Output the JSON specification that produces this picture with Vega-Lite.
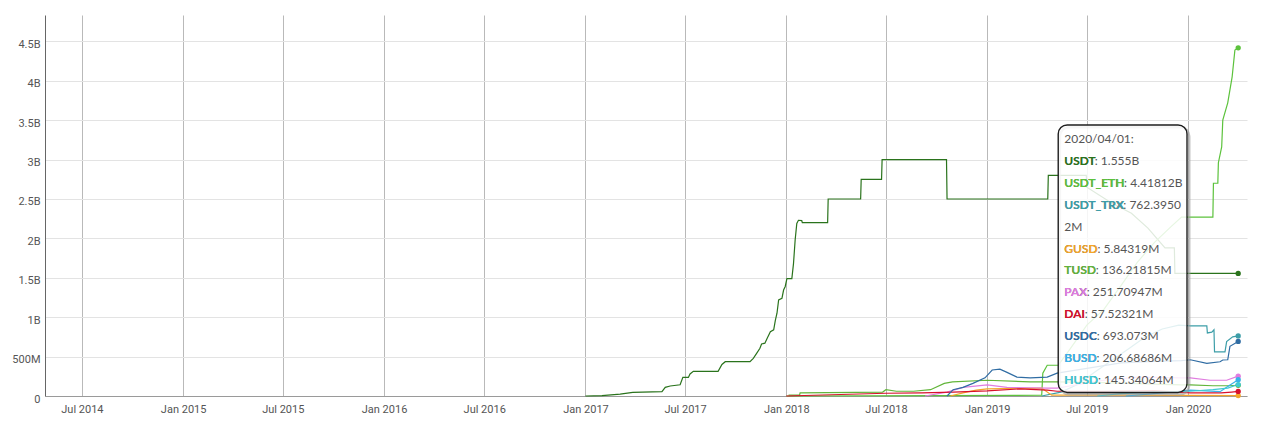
{
  "$schema": "https://vega.github.io/schema/vega-lite/v6.json",
  "width": 1202,
  "height": 381,
  "autosize": {"type": "none"},
  "padding": {"left": 45, "top": 15, "right": 33, "bottom": 26},
  "background": "white",
  "config": {"view": {"stroke": null}, "font": "Roboto"},
  "datasets": {
    "supply": [
      {"coin": "USDT", "date": "2017-01-01", "value": 0.0},
      {"coin": "USDT", "date": "2017-01-31", "value": 0.004},
      {"coin": "USDT", "date": "2017-03-05", "value": 0.025},
      {"coin": "USDT", "date": "2017-03-28", "value": 0.047},
      {"coin": "USDT", "date": "2017-05-20", "value": 0.055},
      {"coin": "USDT", "date": "2017-05-26", "value": 0.11},
      {"coin": "USDT", "date": "2017-06-04", "value": 0.127},
      {"coin": "USDT", "date": "2017-06-22", "value": 0.143},
      {"coin": "USDT", "date": "2017-06-27", "value": 0.236},
      {"coin": "USDT", "date": "2017-07-07", "value": 0.236},
      {"coin": "USDT", "date": "2017-07-10", "value": 0.28},
      {"coin": "USDT", "date": "2017-07-16", "value": 0.313},
      {"coin": "USDT", "date": "2017-08-30", "value": 0.313},
      {"coin": "USDT", "date": "2017-09-06", "value": 0.40},
      {"coin": "USDT", "date": "2017-09-12", "value": 0.435},
      {"coin": "USDT", "date": "2017-10-27", "value": 0.435},
      {"coin": "USDT", "date": "2017-11-02", "value": 0.478},
      {"coin": "USDT", "date": "2017-11-08", "value": 0.54},
      {"coin": "USDT", "date": "2017-11-14", "value": 0.605},
      {"coin": "USDT", "date": "2017-11-17", "value": 0.66},
      {"coin": "USDT", "date": "2017-11-23", "value": 0.67},
      {"coin": "USDT", "date": "2017-11-27", "value": 0.73},
      {"coin": "USDT", "date": "2017-12-03", "value": 0.816},
      {"coin": "USDT", "date": "2017-12-09", "value": 0.84},
      {"coin": "USDT", "date": "2017-12-12", "value": 0.96},
      {"coin": "USDT", "date": "2017-12-15", "value": 1.05},
      {"coin": "USDT", "date": "2017-12-18", "value": 1.22},
      {"coin": "USDT", "date": "2017-12-24", "value": 1.24},
      {"coin": "USDT", "date": "2017-12-27", "value": 1.345},
      {"coin": "USDT", "date": "2017-12-30", "value": 1.39},
      {"coin": "USDT", "date": "2018-01-02", "value": 1.49},
      {"coin": "USDT", "date": "2018-01-11", "value": 1.49},
      {"coin": "USDT", "date": "2018-01-14", "value": 1.68},
      {"coin": "USDT", "date": "2018-01-17", "value": 1.98},
      {"coin": "USDT", "date": "2018-01-20", "value": 2.19},
      {"coin": "USDT", "date": "2018-01-23", "value": 2.23},
      {"coin": "USDT", "date": "2018-01-29", "value": 2.225},
      {"coin": "USDT", "date": "2018-01-30", "value": 2.20},
      {"coin": "USDT", "date": "2018-03-17", "value": 2.20},
      {"coin": "USDT", "date": "2018-03-18", "value": 2.50},
      {"coin": "USDT", "date": "2018-05-16", "value": 2.50},
      {"coin": "USDT", "date": "2018-05-17", "value": 2.75},
      {"coin": "USDT", "date": "2018-06-23", "value": 2.75},
      {"coin": "USDT", "date": "2018-06-24", "value": 3.00},
      {"coin": "USDT", "date": "2018-10-19", "value": 3.00},
      {"coin": "USDT", "date": "2018-10-20", "value": 2.50},
      {"coin": "USDT", "date": "2019-04-21", "value": 2.50},
      {"coin": "USDT", "date": "2019-04-22", "value": 2.80},
      {"coin": "USDT", "date": "2019-06-30", "value": 2.80},
      {"coin": "USDT", "date": "2019-07-01", "value": 2.65},
      {"coin": "USDT", "date": "2019-08-15", "value": 2.45},
      {"coin": "USDT", "date": "2019-09-20", "value": 2.32},
      {"coin": "USDT", "date": "2019-10-20", "value": 2.13},
      {"coin": "USDT", "date": "2019-11-20", "value": 1.88},
      {"coin": "USDT", "date": "2019-12-07", "value": 1.88},
      {"coin": "USDT", "date": "2019-12-08", "value": 1.555},
      {"coin": "USDT", "date": "2020-04-01", "value": 1.555},

      {"coin": "USDT_ETH", "date": "2018-01-01", "value": 0.0},
      {"coin": "USDT_ETH", "date": "2019-04-10", "value": 0.01},
      {"coin": "USDT_ETH", "date": "2019-04-12", "value": 0.29},
      {"coin": "USDT_ETH", "date": "2019-04-20", "value": 0.39},
      {"coin": "USDT_ETH", "date": "2019-05-10", "value": 0.39},
      {"coin": "USDT_ETH", "date": "2019-06-01", "value": 0.6},
      {"coin": "USDT_ETH", "date": "2019-07-01", "value": 0.9},
      {"coin": "USDT_ETH", "date": "2019-08-01", "value": 1.1},
      {"coin": "USDT_ETH", "date": "2019-09-01", "value": 1.4},
      {"coin": "USDT_ETH", "date": "2019-10-01", "value": 1.7},
      {"coin": "USDT_ETH", "date": "2019-11-01", "value": 1.95},
      {"coin": "USDT_ETH", "date": "2019-12-01", "value": 2.15},
      {"coin": "USDT_ETH", "date": "2019-12-20", "value": 2.27},
      {"coin": "USDT_ETH", "date": "2020-02-15", "value": 2.27},
      {"coin": "USDT_ETH", "date": "2020-02-16", "value": 2.70},
      {"coin": "USDT_ETH", "date": "2020-02-24", "value": 2.70},
      {"coin": "USDT_ETH", "date": "2020-02-25", "value": 2.96},
      {"coin": "USDT_ETH", "date": "2020-03-02", "value": 3.16},
      {"coin": "USDT_ETH", "date": "2020-03-04", "value": 3.50},
      {"coin": "USDT_ETH", "date": "2020-03-13", "value": 3.72},
      {"coin": "USDT_ETH", "date": "2020-03-21", "value": 4.05},
      {"coin": "USDT_ETH", "date": "2020-03-26", "value": 4.39},
      {"coin": "USDT_ETH", "date": "2020-04-01", "value": 4.41812},

      {"coin": "USDT_TRX", "date": "2019-04-10", "value": 0.0},
      {"coin": "USDT_TRX", "date": "2019-05-15", "value": 0.05},
      {"coin": "USDT_TRX", "date": "2019-06-15", "value": 0.15},
      {"coin": "USDT_TRX", "date": "2019-07-15", "value": 0.3},
      {"coin": "USDT_TRX", "date": "2019-08-15", "value": 0.45},
      {"coin": "USDT_TRX", "date": "2019-09-15", "value": 0.6},
      {"coin": "USDT_TRX", "date": "2019-10-15", "value": 0.75},
      {"coin": "USDT_TRX", "date": "2019-11-15", "value": 0.85},
      {"coin": "USDT_TRX", "date": "2019-12-15", "value": 0.9},
      {"coin": "USDT_TRX", "date": "2020-01-05", "value": 0.89},
      {"coin": "USDT_TRX", "date": "2020-02-04", "value": 0.89},
      {"coin": "USDT_TRX", "date": "2020-02-05", "value": 0.80},
      {"coin": "USDT_TRX", "date": "2020-02-13", "value": 0.81},
      {"coin": "USDT_TRX", "date": "2020-02-17", "value": 0.84},
      {"coin": "USDT_TRX", "date": "2020-02-18", "value": 0.56},
      {"coin": "USDT_TRX", "date": "2020-03-08", "value": 0.56},
      {"coin": "USDT_TRX", "date": "2020-03-11", "value": 0.69},
      {"coin": "USDT_TRX", "date": "2020-03-22", "value": 0.75},
      {"coin": "USDT_TRX", "date": "2020-04-01", "value": 0.7624},

      {"coin": "GUSD", "date": "2018-10-26", "value": 0.0},
      {"coin": "GUSD", "date": "2018-11-18", "value": 0.04},
      {"coin": "GUSD", "date": "2018-12-12", "value": 0.075},
      {"coin": "GUSD", "date": "2019-01-01", "value": 0.09},
      {"coin": "GUSD", "date": "2019-04-10", "value": 0.10},
      {"coin": "GUSD", "date": "2019-04-28", "value": 0.01},
      {"coin": "GUSD", "date": "2019-08-01", "value": 0.01},
      {"coin": "GUSD", "date": "2019-12-01", "value": 0.008},
      {"coin": "GUSD", "date": "2020-01-05", "value": 0.007},
      {"coin": "GUSD", "date": "2020-04-01", "value": 0.0058},

      {"coin": "TUSD", "date": "2018-01-05", "value": 0.01},
      {"coin": "TUSD", "date": "2018-01-25", "value": 0.01},
      {"coin": "TUSD", "date": "2018-01-26", "value": 0.04},
      {"coin": "TUSD", "date": "2018-06-25", "value": 0.05},
      {"coin": "TUSD", "date": "2018-07-01", "value": 0.08},
      {"coin": "TUSD", "date": "2018-07-20", "value": 0.06},
      {"coin": "TUSD", "date": "2018-08-20", "value": 0.06},
      {"coin": "TUSD", "date": "2018-09-20", "value": 0.08},
      {"coin": "TUSD", "date": "2018-10-15", "value": 0.16},
      {"coin": "TUSD", "date": "2018-10-30", "value": 0.18},
      {"coin": "TUSD", "date": "2019-01-01", "value": 0.20},
      {"coin": "TUSD", "date": "2019-03-20", "value": 0.18},
      {"coin": "TUSD", "date": "2019-05-08", "value": 0.18},
      {"coin": "TUSD", "date": "2019-08-01", "value": 0.17},
      {"coin": "TUSD", "date": "2019-11-01", "value": 0.15},
      {"coin": "TUSD", "date": "2019-12-20", "value": 0.14},
      {"coin": "TUSD", "date": "2020-01-05", "value": 0.14},
      {"coin": "TUSD", "date": "2020-02-15", "value": 0.13},
      {"coin": "TUSD", "date": "2020-03-15", "value": 0.13},
      {"coin": "TUSD", "date": "2020-04-01", "value": 0.1362},

      {"coin": "PAX", "date": "2018-09-10", "value": 0.0},
      {"coin": "PAX", "date": "2018-10-20", "value": 0.05},
      {"coin": "PAX", "date": "2018-11-18", "value": 0.11},
      {"coin": "PAX", "date": "2019-01-01", "value": 0.14},
      {"coin": "PAX", "date": "2019-02-06", "value": 0.11},
      {"coin": "PAX", "date": "2019-04-20", "value": 0.10},
      {"coin": "PAX", "date": "2019-05-08", "value": 0.10},
      {"coin": "PAX", "date": "2019-08-01", "value": 0.20},
      {"coin": "PAX", "date": "2019-10-01", "value": 0.24},
      {"coin": "PAX", "date": "2019-12-20", "value": 0.23},
      {"coin": "PAX", "date": "2020-01-05", "value": 0.23},
      {"coin": "PAX", "date": "2020-02-10", "value": 0.20},
      {"coin": "PAX", "date": "2020-03-11", "value": 0.20},
      {"coin": "PAX", "date": "2020-04-01", "value": 0.2517},

      {"coin": "DAI", "date": "2018-01-01", "value": 0.0},
      {"coin": "DAI", "date": "2018-07-01", "value": 0.035},
      {"coin": "DAI", "date": "2018-09-04", "value": 0.04},
      {"coin": "DAI", "date": "2018-10-31", "value": 0.05},
      {"coin": "DAI", "date": "2019-01-01", "value": 0.065},
      {"coin": "DAI", "date": "2019-03-01", "value": 0.09},
      {"coin": "DAI", "date": "2019-04-20", "value": 0.075},
      {"coin": "DAI", "date": "2019-05-08", "value": 0.06},
      {"coin": "DAI", "date": "2019-08-01", "value": 0.06},
      {"coin": "DAI", "date": "2019-11-01", "value": 0.07},
      {"coin": "DAI", "date": "2019-12-20", "value": 0.045},
      {"coin": "DAI", "date": "2020-01-05", "value": 0.04},
      {"coin": "DAI", "date": "2020-03-01", "value": 0.04},
      {"coin": "DAI", "date": "2020-03-20", "value": 0.05},
      {"coin": "DAI", "date": "2020-04-01", "value": 0.0575},

      {"coin": "USDC", "date": "2018-10-20", "value": 0.0},
      {"coin": "USDC", "date": "2018-10-31", "value": 0.08},
      {"coin": "USDC", "date": "2018-11-18", "value": 0.11},
      {"coin": "USDC", "date": "2018-12-06", "value": 0.16},
      {"coin": "USDC", "date": "2018-12-28", "value": 0.23},
      {"coin": "USDC", "date": "2019-01-10", "value": 0.33},
      {"coin": "USDC", "date": "2019-01-24", "value": 0.34},
      {"coin": "USDC", "date": "2019-02-06", "value": 0.30},
      {"coin": "USDC", "date": "2019-02-24", "value": 0.24},
      {"coin": "USDC", "date": "2019-03-20", "value": 0.23},
      {"coin": "USDC", "date": "2019-04-20", "value": 0.24},
      {"coin": "USDC", "date": "2019-05-08", "value": 0.29},
      {"coin": "USDC", "date": "2019-07-01", "value": 0.35},
      {"coin": "USDC", "date": "2019-09-01", "value": 0.42},
      {"coin": "USDC", "date": "2019-11-01", "value": 0.44},
      {"coin": "USDC", "date": "2019-12-20", "value": 0.45},
      {"coin": "USDC", "date": "2020-01-05", "value": 0.46},
      {"coin": "USDC", "date": "2020-02-04", "value": 0.415},
      {"coin": "USDC", "date": "2020-02-28", "value": 0.435},
      {"coin": "USDC", "date": "2020-03-04", "value": 0.457},
      {"coin": "USDC", "date": "2020-03-13", "value": 0.46},
      {"coin": "USDC", "date": "2020-03-17", "value": 0.63},
      {"coin": "USDC", "date": "2020-04-01", "value": 0.693},

      {"coin": "BUSD", "date": "2019-09-10", "value": 0.0},
      {"coin": "BUSD", "date": "2019-10-15", "value": 0.02},
      {"coin": "BUSD", "date": "2019-12-01", "value": 0.05},
      {"coin": "BUSD", "date": "2020-01-05", "value": 0.075},
      {"coin": "BUSD", "date": "2020-02-28", "value": 0.055},
      {"coin": "BUSD", "date": "2020-03-13", "value": 0.12},
      {"coin": "BUSD", "date": "2020-04-01", "value": 0.2067},

      {"coin": "HUSD", "date": "2019-07-20", "value": 0.0},
      {"coin": "HUSD", "date": "2019-09-01", "value": 0.03},
      {"coin": "HUSD", "date": "2019-11-01", "value": 0.05},
      {"coin": "HUSD", "date": "2020-01-05", "value": 0.06},
      {"coin": "HUSD", "date": "2020-02-15", "value": 0.08},
      {"coin": "HUSD", "date": "2020-03-13", "value": 0.10},
      {"coin": "HUSD", "date": "2020-04-01", "value": 0.1453}
    ],
    "tip": [
      {"i": 0, "line": "2020/04/01:"},
      {"i": 1, "coin": "USDT", "line": "USDT: 1.555B"},
      {"i": 2, "coin": "USDT_ETH", "line": "USDT_ETH: 4.41812B"},
      {"i": 3, "coin": "USDT_TRX", "line": "USDT_TRX: 762.3950"},
      {"i": 4, "line": "2M"},
      {"i": 5, "coin": "GUSD", "line": "GUSD: 5.84319M"},
      {"i": 6, "coin": "TUSD", "line": "TUSD: 136.21815M"},
      {"i": 7, "coin": "PAX", "line": "PAX: 251.70947M"},
      {"i": 8, "coin": "DAI", "line": "DAI: 57.52321M"},
      {"i": 9, "coin": "USDC", "line": "USDC: 693.073M"},
      {"i": 10, "coin": "BUSD", "line": "BUSD: 206.68686M"},
      {"i": 11, "coin": "HUSD", "line": "HUSD: 145.34064M"}
    ]
  },
  "layer": [
    {
      "layer": [
        {
          "data": {"name": "supply"},
          "mark": {"type": "line", "strokeWidth": 1.2, "interpolate": "linear"},
          "encoding": {
            "x": {
              "field": "date", "type": "temporal",
              "scale": {"type": "utc", "domain": [{"year": 2014, "month": 4, "date": 25, "utc": true}, {"year": 2020, "month": 4, "date": 17, "utc": true}]},
              "axis": {
                "title": null,
                "values": [
                  {"year": 2014, "month": 7, "date": 1, "utc": true},
                  {"year": 2015, "month": 1, "date": 1, "utc": true},
                  {"year": 2015, "month": 7, "date": 1, "utc": true},
                  {"year": 2016, "month": 1, "date": 1, "utc": true},
                  {"year": 2016, "month": 7, "date": 1, "utc": true},
                  {"year": 2017, "month": 1, "date": 1, "utc": true},
                  {"year": 2017, "month": 7, "date": 1, "utc": true},
                  {"year": 2018, "month": 1, "date": 1, "utc": true},
                  {"year": 2018, "month": 7, "date": 1, "utc": true},
                  {"year": 2019, "month": 1, "date": 1, "utc": true},
                  {"year": 2019, "month": 7, "date": 1, "utc": true},
                  {"year": 2020, "month": 1, "date": 1, "utc": true}
                ],
                "labelExpr": "utcFormat(datum.value, '%b %Y')",
                "grid": true, "gridColor": "#b9b9b9", "gridWidth": 1,
                "ticks": false, "domainColor": "#9a9a9a",
                "labelFont": "Roboto", "labelFontSize": 11, "labelColor": "#555555", "labelPadding": 7
              }
            },
            "y": {
              "field": "value", "type": "quantitative",
              "scale": {"domain": [0, 4.835], "nice": false, "zero": true},
              "axis": {
                "title": null,
                "values": [0, 0.5, 1, 1.5, 2, 2.5, 3, 3.5, 4, 4.5],
                "labelExpr": "datum.value == 0 ? '0' : (datum.value < 1 ? (datum.value * 1000) + 'M' : datum.value + 'B')",
                "grid": true, "gridColor": "#e3e3e3", "gridWidth": 1,
                "ticks": false, "domainColor": "#666666",
                "labelFont": "Roboto", "labelFontSize": 11, "labelColor": "#555555", "labelPadding": 5, "labelOffset": 3
              }
            },
            "color": {
              "field": "coin", "type": "nominal",
              "scale": {
                "domain": ["USDT", "USDT_ETH", "USDT_TRX", "GUSD", "TUSD", "PAX", "DAI", "USDC", "BUSD", "HUSD"],
                "range": ["#2a731c", "#5cc23c", "#3d9ea8", "#f4a62a", "#62b53a", "#e07ce0", "#d8102c", "#2f6ca3", "#38b2e8", "#3fc9d3"]
              },
              "legend": null
            }
          }
        },
        {
          "data": {"name": "supply"},
          "mark": {"type": "point", "filled": true, "size": 28, "opacity": 1},
          "encoding": {
            "x": {"field": "date", "type": "temporal", "aggregate": {"argmax": "date"}},
            "y": {"field": "value", "type": "quantitative", "aggregate": {"argmax": "date"}},
            "color": {"field": "coin", "type": "nominal", "legend": null}
          }
        },
        {
          "data": {"values": [{}]},
          "mark": {"type": "rect", "cornerRadius": 9, "fill": null, "stroke": "#9a9a9a", "strokeWidth": 2.5, "strokeOpacity": 0.6},
          "encoding": {
            "x": {"datum": {"year": 2019, "month": 5, "date": 13, "utc": true}, "type": "temporal"},
            "x2": {"datum": {"year": 2020, "month": 1, "date": 3, "utc": true}},
            "y": {"datum": 0.022, "type": "quantitative"},
            "y2": {"datum": 3.41}
          }
        },
        {
          "data": {"values": [{}]},
          "mark": {"type": "rect", "cornerRadius": 9, "fill": "white", "fillOpacity": 0.85, "stroke": "#1e1e1e", "strokeWidth": 1.4},
          "encoding": {
            "x": {"datum": {"year": 2019, "month": 5, "date": 10, "utc": true}, "type": "temporal"},
            "x2": {"datum": {"year": 2019, "month": 12, "date": 30, "utc": true}},
            "y": {"datum": 0.045, "type": "quantitative"},
            "y2": {"datum": 3.44}
          }
        }
      ]
    },
    {
      "data": {"name": "tip"},
      "layer": [
        {
          "mark": {"type": "text", "align": "left", "baseline": "middle", "font": "Lato", "fontSize": 12, "color": "#555555"},
          "encoding": {
            "x": {"datum": {"year": 2019, "month": 5, "date": 21, "utc": true}, "type": "temporal"},
            "y": {"field": "i", "type": "ordinal", "scale": {"type": "point", "range": [124, 365], "padding": 0}, "axis": null},
            "text": {"field": "line"}
          }
        },
        {
          "transform": [{"filter": "isValid(datum.coin)"}],
          "mark": {"type": "text", "align": "left", "baseline": "middle", "font": "Lato", "fontSize": 12, "fontWeight": "bold"},
          "encoding": {
            "x": {"datum": {"year": 2019, "month": 5, "date": 21, "utc": true}, "type": "temporal"},
            "y": {"field": "i", "type": "ordinal", "scale": {"type": "point", "range": [124, 365], "padding": 0}, "axis": null},
            "text": {"field": "coin"},
            "color": {"field": "coin", "type": "nominal", "legend": null}
          }
        }
      ]
    }
  ],
  "resolve": {"scale": {"y": "independent"}}
}
